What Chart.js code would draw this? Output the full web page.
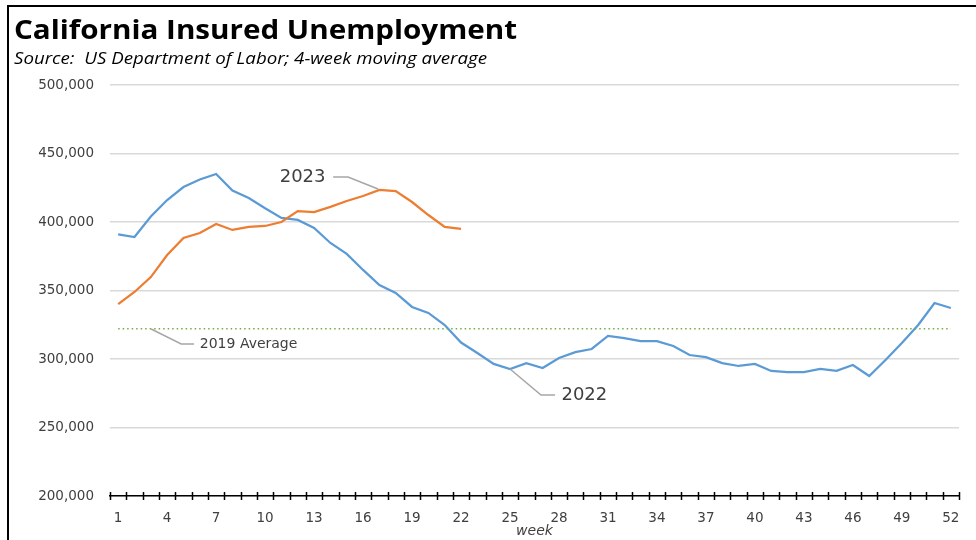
<!DOCTYPE html>
<html>
<head>
<meta charset="utf-8">
<script src="https://cdn.jsdelivr.net/npm/chart.js@4"></script>
<style>
  body { margin: 0; background: #fff; }
  #wrap { position: relative; width: 976px; height: 540px; }
</style>
</head>
<body>
<div id="wrap"><canvas id="ui-chart" width="976" height="540"></canvas></div>
<script>
let chartTitle = 'California Insured Unemployment'
let chartSource = 'Source:  US Department of Labor; 4-week moving average'

let weeks = ['1','2','3','4','5','6','7','8','9','10','11','12','13','14','15','16','17','18','19','20',
    '21','22','23','24','25','26','27','28','29','30','31','32','33','34','35','36','37','38','39','40',
    '41','42','43','44','45','46','47','48','49','50','51','52']

let ui2022 = [391000, 389000, 404000, 416000, 425500, 431000, 435000, 423000, 417500, 410000,
    403000, 401500, 395600, 384700, 376700, 365000, 354000, 348200, 338000, 333600,
    324800, 312000, 304400, 296400, 292700, 297000, 293400, 300700, 305000, 307300,
    316800, 315300, 313100, 313100, 309500, 302900, 301400, 297000, 294900, 296400,
    291300, 290500, 290500, 292700, 291300, 295600, 287600, 299300, 311700, 324800,
    340900, 337200]

// 2023 so far
let ui2023 = [340000, 348900, 359800, 375900, 388300, 392000, 398500, 394200, 396400, 397100,
    400000, 408000, 407300, 411000, 415300, 419000, 423400, 422600, 414600, 405100,
    396400, 394900]

let avg2019 = 322000

let yTicks = [200000, 250000, 300000, 350000, 400000, 450000, 500000]

// callouts: text, anchor (week index, value), leader line points
let callouts = [
    { text: '2023', align: 'right', size: 18, at: [12.7, 432300], line: [[13.17, 432800], [14.08, 432800], [15.92, 424100]] },
    { text: '2022', align: 'left', size: 18, at: [27.15, 273400], line: [[24.0, 292700], [25.9, 273700], [26.76, 273700]] },
    { text: '2019 Average', align: 'left', size: 14, at: [5.0, 311000], line: [[2.02, 321900], [3.86, 311000], [4.65, 311000]] }
]

let textColor = '#404040'
let tickFont = '"DejaVu Sans"'

// draw text stretched to a given width
function fitText(ctx, text, font, x, y, width) {
    ctx.font = font
    let w = ctx.measureText(text).width
    ctx.save()
    ctx.translate(x, y)
    ctx.scale(width / w, 1)
    ctx.fillText(text, 0, 0)
    ctx.restore()
}

let decorPlugin = {
    id: 'decor',
    beforeDraw(chart) {
        let ctx = chart.ctx
        ctx.save()
        ctx.fillStyle = '#fff'
        ctx.fillRect(0, 0, chart.width, chart.height)
        // frame
        ctx.strokeStyle = '#000'
        ctx.lineWidth = 2
        ctx.beginPath()
        ctx.moveTo(976, 6)
        ctx.lineTo(8, 6)
        ctx.lineTo(8, 540)
        ctx.stroke()
        // title
        ctx.fillStyle = '#000'
        ctx.textBaseline = 'alphabetic'
        ctx.textAlign = 'left'
        fitText(ctx, chartTitle, 'bold 27px "Open Sans"', 14, 39, 503)
        fitText(ctx, chartSource, 'italic 16px "Open Sans"', 14, 64, 473)
        ctx.restore()
    },
    afterDatasetsDraw(chart) {
        let ctx = chart.ctx
        let x = chart.scales.x
        let y = chart.scales.y
        ctx.save()
        // tick crosses on the x axis line
        let base = chart.chartArea.bottom
        ctx.strokeStyle = '#000'
        ctx.lineWidth = 1.5
        ctx.beginPath()
        for (let i = 0; i <= weeks.length; i++) {
            let px = Math.round(x.getPixelForValue(i - 0.5)) + 0.5
            ctx.moveTo(px, base - 4)
            ctx.lineTo(px, base + 4)
        }
        ctx.stroke()
        // callouts
        callouts.forEach(function(c) {
            ctx.strokeStyle = '#a6a6a6'
            ctx.lineWidth = 1.5
            ctx.beginPath()
            c.line.forEach(function(p, k) {
                let px = x.getPixelForValue(p[0])
                let py = y.getPixelForValue(p[1])
                if (k == 0) ctx.moveTo(px, py)
                else ctx.lineTo(px, py)
            })
            ctx.stroke()
            ctx.fillStyle = textColor
            ctx.font = c.size + 'px ' + tickFont
            ctx.textAlign = c.align
            ctx.textBaseline = 'middle'
            ctx.fillText(c.text, x.getPixelForValue(c.at[0]), y.getPixelForValue(c.at[1]))
        })
        ctx.restore()
    }
}

let canvas = document.querySelector('#ui-chart')
let context = canvas.getContext('2d')

let chart = new Chart(context, {
    type: 'line',
    data: {
        labels: weeks,
        datasets: [
            {
                label: '2019 Average',
                data: [{ x: weeks[0], y: avg2019 }, { x: weeks[weeks.length - 1], y: avg2019 }],
                borderColor: '#70AD47',
                borderWidth: 1.5,
                borderDash: [1.5, 3],
                pointRadius: 0
            },
            {
                label: '2023',
                data: ui2023,
                borderColor: '#ED7D31',
                borderWidth: 2.25,
                pointRadius: 0,
                tension: 0
            },
            {
                label: '2022',
                data: ui2022,
                borderColor: '#5B9BD5',
                borderWidth: 2.25,
                pointRadius: 0,
                tension: 0
            }
        ]
    },
    options: {
        responsive: false,
        animation: false,
        layout: {
            padding: { top: 85, left: 14, right: 17, bottom: 0 }
        },
        plugins: {
            legend: { display: false },
            tooltip: { enabled: false }
        },
        scales: {
            x: {
                offset: true,
                grid: { display: false },
                border: { display: true, color: '#000', width: 1.5 },
                ticks: {
                    autoSkip: false,
                    maxRotation: 0,
                    padding: 6,
                    color: textColor,
                    font: { family: 'DejaVu Sans', size: 13.5 },
                    callback: function(value, index) {
                        return index % 3 == 0 ? weeks[index] : ''
                    }
                },
                title: {
                    display: true,
                    text: 'week',
                    color: textColor,
                    padding: { top: -4, bottom: 0 },
                    font: { family: 'DejaVu Sans', size: 14, style: 'italic' }
                },
                afterFit: function(scale) { scale.height = 44 }
            },
            y: {
                min: yTicks[0],
                max: yTicks[yTicks.length - 1],
                grid: { color: '#d9d9d9', lineWidth: 1.5, drawTicks: false },
                border: { display: false },
                afterBuildTicks: function(scale) {
                    scale.ticks = yTicks.map(function(v) { return { value: v } })
                },
                ticks: {
                    padding: 16,
                    color: textColor,
                    font: { family: 'DejaVu Sans', size: 13.5 },
                    callback: function(value) { return value.toLocaleString('en-US') }
                },
                afterFit: function(scale) { scale.width = 96 }
            }
        }
    },
    plugins: [decorPlugin]
})
</script>
</body>
</html>
